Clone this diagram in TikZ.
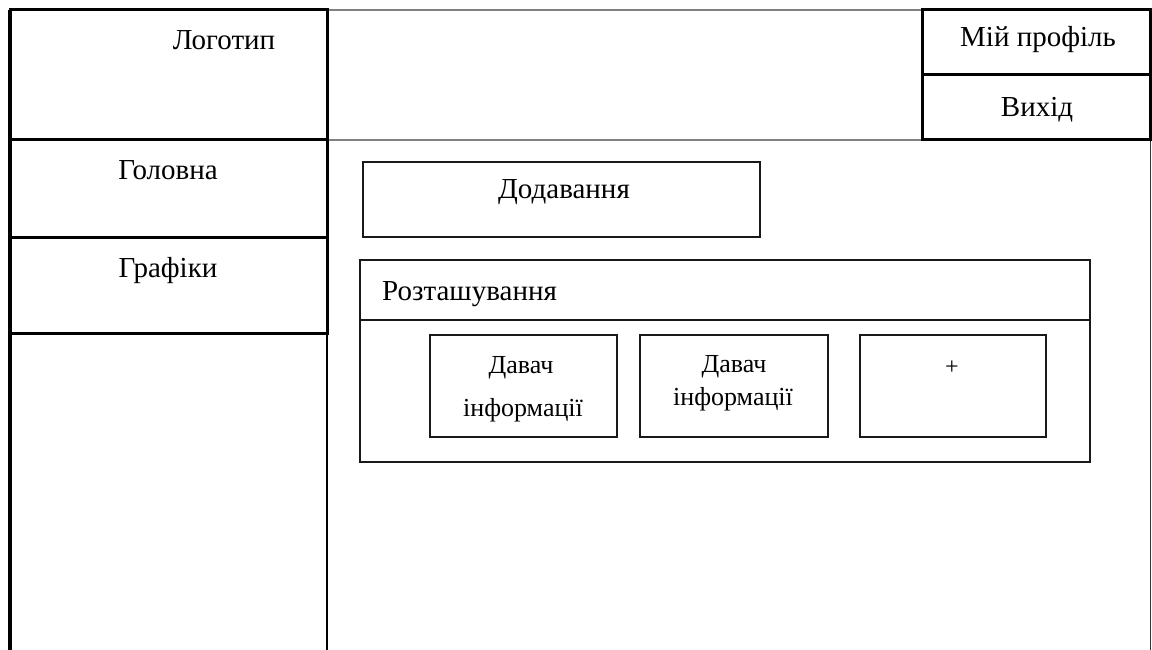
\documentclass[tikz,border=0pt]{standalone}
\usepackage{fontspec}
\setmainfont{Liberation Serif}
\begin{document}
\begin{tikzpicture}[x=1pt,y=-1pt,
  thickbox/.style={draw=black,line width=3pt,rectangle,inner sep=0pt},
  midbox/.style={draw=black!90,line width=2.5pt,rectangle,inner sep=0pt},
  thinline/.style={draw=black!50,line width=1.3pt},
  lbl/.style={inner sep=0pt,anchor=base,font=\fontsize{29}{33}\selectfont},
  slbl/.style={inner sep=0pt,anchor=base,font=\fontsize{26}{30}\selectfont}]
\useasboundingbox (0,0) rectangle (1152,650);
% frame pieces
\coordinate (tl) at (10,10);
\coordinate (bl) at (10,650);
\coordinate (pr) at (327,333);
\coordinate (pb) at (327,650);
\coordinate (ht) at (327,10);
\coordinate (htr) at (922,10);
\coordinate (hb) at (327,140);
\coordinate (hbr) at (922,140);
\coordinate (rt) at (1150.5,140);
\coordinate (rb) at (1150.5,650);
\draw[line width=3.4pt] (tl) -- (bl);
\draw[line width=2.6pt] (pr) -- (pb);
\draw[thinline] (ht) -- (htr);
\draw[thinline] (hb) -- (hbr);
\draw[draw=black!80,line width=1.3pt] (rt) -- (rb);
% left column
\node[thickbox,minimum width=317pt,minimum height=130pt] (logo) at (168.5,75) {};
\node[thickbox,minimum width=317pt,minimum height=97pt] (home) at (168.5,188.5) {};
\node[thickbox,minimum width=317pt,minimum height=96pt] (charts) at (168.5,285) {};
% header right
\node[thickbox,minimum width=228pt,minimum height=65pt] (profile) at (1036,42.5) {};
\node[thickbox,minimum width=228pt,minimum height=65pt] (exit) at (1036,107.5) {};
% content
\node[midbox,minimum width=397pt,minimum height=75pt] (add) at (561.5,199.5) {};
\node[midbox,minimum width=730pt,minimum height=202pt] (loc) at (725,361) {};
\coordinate (dl) at (360,320);
\coordinate (dr) at (1090,320);
\draw[draw=black!90,line width=2.5pt] (dl) -- (dr);
\node[midbox,minimum width=187pt,minimum height=102pt] (s1) at (523.5,386) {};
\node[midbox,minimum width=188pt,minimum height=102pt] (s2) at (734,386) {};
\node[midbox,minimum width=186pt,minimum height=102pt] (s3) at (953,386) {};
% labels
\node[lbl] (tlogo) at (224,50) {Логотип};
\node[lbl] (thome) at (168,180) {Головна};
\node[lbl] (tcharts) at (168,277) {Графіки};
\node[lbl] (tprofile) at (1038,47) {Мій профіль};
\node[lbl] (texit) at (1037,117) {Вихід};
\node[lbl] (tadd) at (564,198) {Додавання};
\node[lbl,anchor=base west] (tloc) at (382,300) {Розташування};
\node[slbl] (ts1a) at (521,373) {Давач};
\node[slbl] (ts1b) at (523,416) {інформації};
\node[slbl] (ts2a) at (734,372) {Давач};
\node[slbl] (ts2b) at (733,405) {інформації};
\node[inner sep=0pt,anchor=base,font=\fontsize{24}{28}\selectfont] (tplus) at (952,374) {+};
\end{tikzpicture}
\end{document}
